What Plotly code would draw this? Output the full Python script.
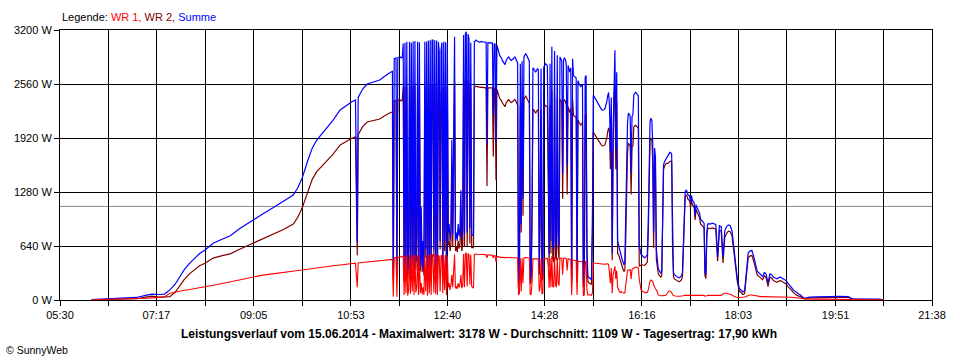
import plotly.graph_objects as go

# ---------------- data ----------------
achsen_zeiten = ["05:30", "07:17", "09:05", "10:53", "12:40", "14:28", "16:16", "18:03", "19:51", "21:38"]
y_werte = [0, 640, 1280, 1920, 2560, 3200]
durchschnitt_w = 1109
titel = "Leistungsverlauf vom 15.06.2014 - Maximalwert: 3178 W - Durchschnitt: 1109 W - Tagesertrag: 17,90 kWh"

# morning (minutes since midnight)
zeit_morgen = [365, 375, 385, 395, 405, 415, 425, 432, 440, 446,
               452, 458, 463, 468, 474, 480, 485, 491, 500, 510,
               519, 530, 544, 555, 566, 578, 589, 594, 599, 605,
               610, 615, 620, 626, 633, 641, 648, 654, 658, 660,
               661, 666, 671, 678, 685, 690, 696]
wr1_morgen = [3, 5, 6, 8, 10, 15, 20, 25, 30, 35,
              80, 95, 105, 115, 125, 135, 145, 158, 175, 195,
              215, 245, 276, 295, 310, 330, 345, 350, 355, 365,
              370, 375, 385, 395, 405, 415, 425, 434, 436, 150,
              440, 445, 450, 455, 462, 468, 475]
summe_morgen = [5, 10, 14, 18, 22, 30, 55, 70, 65, 70,
                120, 190, 276, 360, 438, 500, 550, 593, 672, 720,
                762, 850, 948, 1020, 1090, 1165, 1244, 1330, 1450, 1650,
                1800, 1896, 1960, 2038, 2130, 2252, 2310, 2350, 2370, 680,
                2400, 2500, 2560, 2580, 2607, 2650, 2700]

# midday, one reading per minute from 11:37 to 17:30
zeit_mittag = list(range(697, 1051))
wr1_mittag = [
    478, 480, 482, 40, 500, 502, 505, 40, 505, 505,
    508, 510, 510, 512, 520, 60, 525, 80, 530, 50,
    120, 528, 70, 525, 100, 530, 60, 532, 90, 150,
    530, 60, 528, 80, 200, 70, 150, 60, 530, 100,
    530, 50, 535, 80, 535, 60, 536, 540, 90, 538,
    70, 535, 60, 530, 520, 100, 525, 530, 80, 532,
    120, 530, 60, 525, 150, 200, 120, 180, 300, 150,
    400, 540, 140, 160, 130, 200, 150, 180, 300, 140,
    170, 545, 150, 550, 555, 160, 550, 540, 180, 535,
    160, 150, 140, 540, 545, 545, 542, 540, 540, 538,
    540, 542, 540, 538, 536, 535, 535, 500, 535, 535,
    533, 532, 530, 530, 500, 528, 525, 450, 520, 515,
    510, 508, 505, 505, 503, 502, 500, 500, 502, 503,
    505, 505, 503, 500, 500, 500, 500, 502, 503, 502,
    500, 500, 60, 80, 498, 100, 495, 200, 500, 503,
    505, 503, 500, 500, 498, 60, 70, 200, 490, 488,
    486, 485, 486, 488, 488, 100, 150, 488, 70, 80,
    490, 492, 495, 495, 493, 400, 140, 495, 150, 520,
    160, 150, 510, 180, 150, 500, 200, 170, 500, 498,
    490, 300, 495, 498, 495, 490, 350, 488, 485, 480,
    478, 60, 475, 472, 470, 468, 466, 60, 464, 460,
    458, 456, 455, 455, 50, 60, 455, 455, 120, 60,
    65, 60, 55, 55, 80, 440, 438, 436, 434, 432,
    430, 428, 426, 425, 424, 423, 423, 424, 425, 426,
    428, 430, 420, 300, 200, 380, 80, 300, 380, 400,
    250, 350, 150, 110, 100, 90, 100, 90, 85, 80,
    85, 200, 300, 350, 355, 355, 360, 250, 360, 370,
    380, 385, 390, 390, 388, 380, 250, 150, 120, 110,
    100, 95, 90, 85, 85, 90, 120, 180, 220, 237,
    230, 220, 180, 150, 130, 120, 100, 60, 55, 50,
    50, 50, 50, 55, 55, 55, 60, 80, 100, 107,
    107, 100, 90, 60, 50, 50, 48, 45, 45, 45,
    45, 45, 45, 48, 50, 50, 55, 55, 55, 55,
    55, 55, 55, 50, 55, 55, 55, 55, 50, 55,
    55, 55, 55, 55, 55, 55, 55, 55, 55, 45,
    45, 50, 55, 55]
summe_mittag = [
    2700, 2705, 2710, 260, 2860, 2866, 2870, 300, 2870, 2875,
    2870, 2880, 2870, 2880, 3040, 280, 3050, 400, 3060, 300,
    650, 3060, 350, 3050, 500, 3065, 280, 3070, 450, 800,
    3060, 320, 3055, 420, 1100, 400, 700, 350, 3060, 600,
    3065, 300, 3075, 380, 3080, 330, 3080, 3080, 600, 3078,
    350, 3075, 300, 3060, 2950, 700, 2960, 3050, 400, 3060,
    700, 3055, 300, 3050, 800, 900, 700, 850, 1900, 780,
    2500, 3120, 720, 800, 700, 900, 760, 850, 1300, 720,
    820, 3140, 780, 3160, 3178, 800, 3150, 3100, 850, 3050,
    780, 770, 760, 3060, 3075, 3080, 3070, 3065, 3060, 3055,
    3060, 3065, 3060, 3058, 3055, 3050, 3055, 1850, 3050, 3050,
    3045, 3050, 3050, 3045, 2200, 3040, 3030, 1870, 3020, 2980,
    2920, 2900, 2880, 2870, 2840, 2820, 2800, 2790, 2830, 2860,
    2870, 2880, 2860, 2850, 2840, 2845, 2855, 2870, 2880, 2860,
    2830, 2810, 220, 300, 2800, 900, 2830, 1200, 2880, 2900,
    2920, 2900, 2870, 2850, 2830, 250, 280, 1100, 2750, 2740,
    2720, 2700, 2720, 2740, 2730, 400, 1100, 2740, 300, 350,
    2760, 2780, 2800, 2790, 2780, 1800, 540, 2800, 700, 3000,
    650, 600, 2950, 700, 620, 2900, 800, 650, 2880, 2860,
    2830, 1500, 2850, 2870, 2850, 2800, 1600, 2780, 2750, 2700,
    2750, 250, 2860, 2660, 2650, 2640, 2630, 270, 2600, 2570,
    2550, 2530, 2540, 2560, 200, 260, 2640, 2660, 600, 280,
    270, 260, 250, 240, 900, 2430, 2410, 2390, 2370, 2350,
    2330, 2310, 2290, 2270, 2260, 2250, 2250, 2255, 2270, 2300,
    2350, 2420, 2460, 2300, 1750, 2400, 550, 2000, 2820, 2960,
    1800, 2700, 700, 650, 600, 560, 520, 480, 450, 420,
    430, 900, 1700, 2100, 2215, 2200, 2180, 1500, 2170, 2200,
    2430, 2450, 2460, 2450, 2440, 2420, 650, 560, 540, 530,
    515, 505, 500, 505, 520, 540, 900, 1500, 2110, 2155,
    2130, 1850, 800, 1800, 1700, 600, 450, 380, 350, 330,
    320, 340, 1000, 1600, 1640, 1660, 1680, 1700, 1720, 1740,
    1750, 1745, 1730, 600, 330, 300, 290, 280, 270, 265,
    262, 265, 275, 290, 330, 600, 1000, 1280, 1300, 1290,
    1250, 1244, 1230, 1150, 1240, 1185, 1170, 1150, 1000, 1130,
    1100, 1080, 1060, 1030, 960, 948, 930, 920, 910, 330,
    300, 800, 900, 905]

# evening
zeit_abend = [1052, 1054, 1056, 1058, 1060, 1062, 1064, 1066, 1068, 1070,
              1072, 1074, 1076, 1078, 1080, 1082, 1084, 1086, 1088, 1090,
              1092, 1094, 1096, 1098, 1100, 1102, 1104, 1106, 1108, 1110,
              1112, 1114, 1116, 1118, 1120, 1122, 1124, 1126, 1128, 1130,
              1132, 1134, 1136, 1138, 1140, 1142, 1144, 1146, 1148, 1150,
              1152, 1155, 1158, 1162, 1170, 1178, 1185, 1195, 1205, 1210,
              1220, 1230, 1240, 1244]
wr1_abend = [55, 55, 55, 55, 50, 55, 55, 70, 80, 80,
             75, 70, 60, 45, 35, 30, 30, 30, 30, 35,
             45, 55, 60, 60, 55, 50, 45, 40, 40, 40,
             40, 40, 40, 40, 40, 40, 40, 40, 40, 40,
             40, 40, 40, 38, 35, 32, 30, 28, 25, 22,
             20, 15, 12, 10, 10, 10, 10, 10, 8, 5,
             4, 4, 3, 0]
summe_abend = [900, 910, 905, 895, 510, 880, 870, 510, 820, 870,
               890, 880, 820, 600, 390, 240, 140, 110, 95, 110,
               390, 560, 580, 590, 520, 420, 340, 320, 300, 280,
               330, 300, 200, 310, 300, 270, 260, 250, 265, 270,
               255, 245, 230, 200, 180, 150, 120, 100, 80, 70,
               60, 30, 24, 35, 38, 35, 40, 42, 40, 12,
               12, 12, 10, 0]

# ---------------- assemble ----------------
zeit = zeit_morgen + zeit_mittag + zeit_abend
wr1 = wr1_morgen + wr1_mittag + wr1_abend
summe = summe_morgen + summe_mittag + summe_abend
assert len(zeit) == len(wr1) == len(summe), (len(zeit), len(wr1), len(summe))
wr2 = [s - a for s, a in zip(summe, wr1)]


def to_min(s):
    h, m = s.split(":")
    return int(h) * 60 + int(m)


label_pos = [to_min(s) for s in achsen_zeiten]
tickvals, ticktext = [], []
for i, p in enumerate(label_pos):
    tickvals.append(p)
    ticktext.append(achsen_zeiten[i])
    if i < len(label_pos) - 1:
        tickvals.append((p + label_pos[i + 1]) / 2)
        ticktext.append("")

FONT = "Liberation Sans, Arial, sans-serif"

fig = go.Figure()
fig.add_trace(go.Scatter(x=zeit, y=wr2, mode="lines", name="WR 2",
                         line=dict(color="#800000", width=1.2)))
fig.add_trace(go.Scatter(x=zeit, y=summe, mode="lines", name="Summe",
                         line=dict(color="#0000ff", width=1.2)))
fig.add_trace(go.Scatter(x=zeit, y=wr1, mode="lines", name="WR 1",
                         line=dict(color="#ff0000", width=1.1)))

fig.add_shape(type="line", xref="paper", x0=0, x1=1, yref="y",
              y0=durchschnitt_w, y1=durchschnitt_w,
              line=dict(color="#8c8c8c", width=1), layer="below")

fig.update_layout(
    width=960, height=360,
    margin=dict(l=60, r=28, t=30, b=60),
    paper_bgcolor="white", plot_bgcolor="white",
    showlegend=False,
    font=dict(family=FONT, size=11, color="black"),
    xaxis=dict(range=[label_pos[0], label_pos[-1]], tickmode="array",
               tickvals=tickvals, ticktext=ticktext,
               showgrid=True, gridcolor="black", gridwidth=1,
               zeroline=False, showline=True, linecolor="black", linewidth=1,
               mirror=True, ticks="outside", ticklen=5, tickcolor="black",
               tickfont=dict(family=FONT, size=11, color="black")),
    yaxis=dict(range=[0, 3200], tickmode="array", tickvals=y_werte,
               ticktext=[f"{v} W" for v in y_werte],
               showgrid=True, gridcolor="black", gridwidth=1,
               zeroline=False, showline=True, linecolor="black", linewidth=1,
               mirror=True, ticks="outside", ticklen=5, tickcolor="black",
               tickfont=dict(family=FONT, size=11, color="black")),
)

fig.add_annotation(
    xref="paper", yref="paper", x=0, y=(300 - 17) / 270, xanchor="left", yanchor="middle",
    showarrow=False, font=dict(family=FONT, size=11, color="black"),
    text="Legende: <span style='color:#ff0000'>WR 1,</span> "
         "<span style='color:#800000'>WR 2,</span> "
         "<span style='color:#0000ff'>Summe</span>")
fig.add_annotation(
    xref="paper", yref="paper", x=(479 - 60) / 872, y=(300 - 334) / 270,
    xanchor="center", yanchor="middle", showarrow=False,
    font=dict(family=FONT, size=12, color="black"), text="<b>" + titel + "</b>")
fig.add_annotation(
    xref="paper", yref="paper", x=(4 - 60) / 872, y=(300 - 350) / 270,
    xanchor="left", yanchor="middle", showarrow=False,
    font=dict(family=FONT, size=10.5, color="black"), text="© SunnyWeb")

fig.write_html("out.html",
               config={"displayModeBar": False},
               post_script="document.body.style.margin='0';document.body.style.padding='0';")
